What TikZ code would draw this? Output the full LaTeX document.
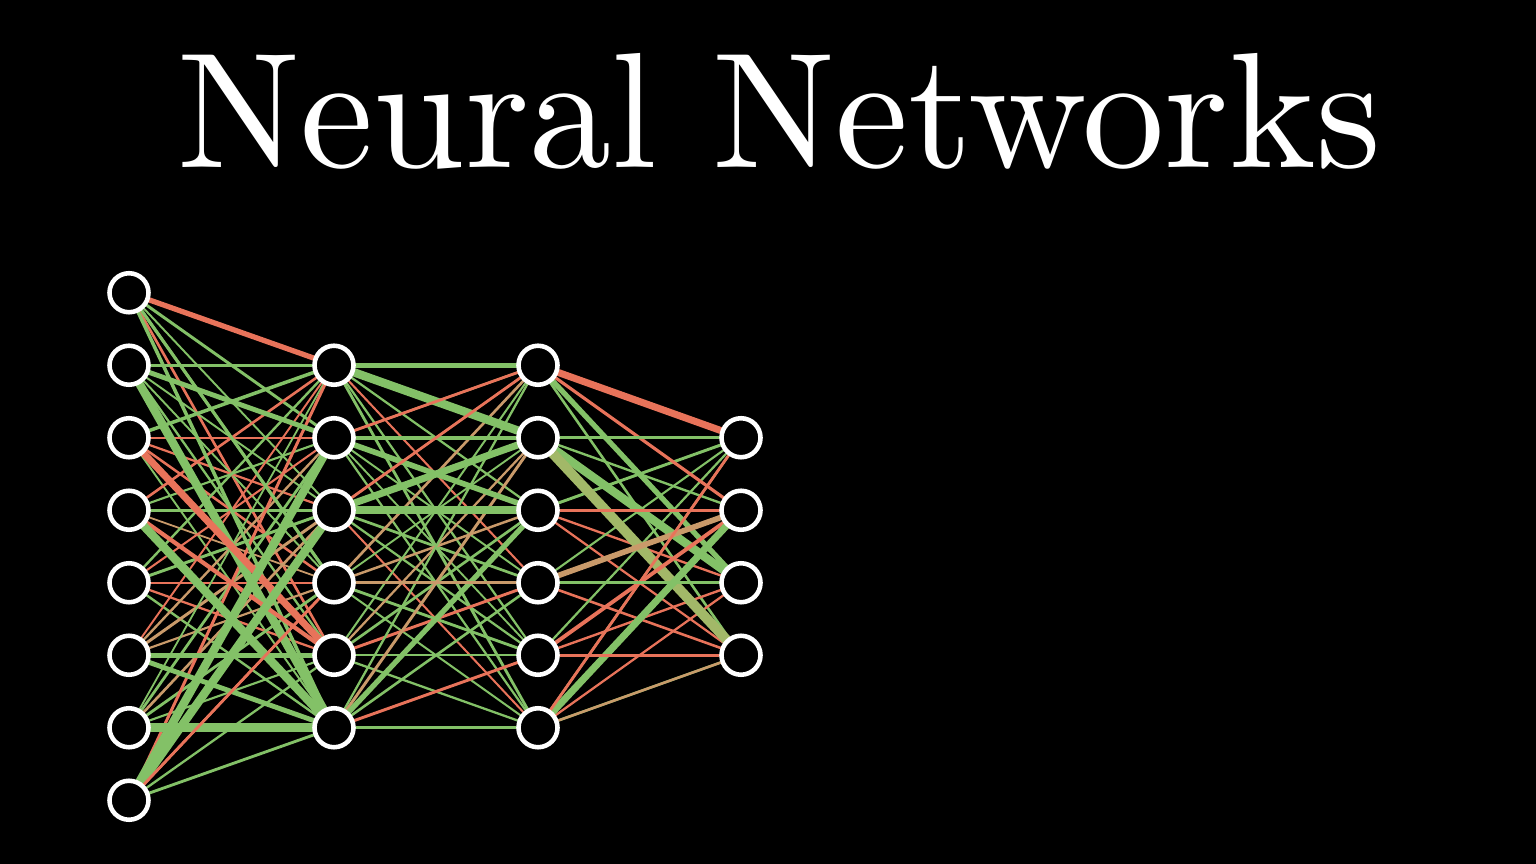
\documentclass[tikz,border=0pt]{standalone}
\usepackage{tikz}
\usetikzlibrary{positioning}
\definecolor{wgreen}{HTML}{83C167}
\definecolor{wred}{HTML}{E8735A}
\definecolor{wtan}{HTML}{C99A6A}
\definecolor{wolive}{HTML}{A2B868}
\newcommand{\gap}{0.725}
\pgfdeclarelayer{bg}
\pgfdeclarelayer{links}
\pgfsetlayers{bg,links,main}
\tikzset{
    neuron/.style={draw=white, circle, fill=black, line width=1.3pt, minimum size=3.9mm, inner sep=0pt},
    link/.style={line width=#1, line cap=round},
    title/.style={text=white, anchor=base, inner sep=0pt, font=\fontsize{10}{12}\selectfont},
}

\begin{document}
\begin{tikzpicture}
        % Background
        \begin{pgfonlayer}{bg}
            \fill[black] (0,0) rectangle (15.36,-8.64);
        \end{pgfonlayer}
        \useasboundingbox (0,0) rectangle (15.36,-8.64);
        % Title
        \node (title) [title] at (7.79,-1.68) {\scalebox{4.68}{Neural Networks}};
        % Layers
        \foreach \i in {1,...,8}
            \node (1\i) [neuron] at (1.29, {-5.465+(4.5-\i)*\gap}) {};
        \foreach \i in {1,...,6} {
            \node (2\i) [neuron] at (3.34, {-5.465+(3.5-\i)*\gap}) {};
            \node (3\i) [neuron] at (5.38, {-5.465+(3.5-\i)*\gap}) {};
        }
        \foreach \i in {1,...,4}
            \node (4\i) [neuron] at (7.41, {-5.465+(2.5-\i)*\gap}) {};

        % Weights (thin)
        \pgfmathsetseed{42}
        \begin{pgfonlayer}{links}
        \foreach \a/\b/\n/\m in {1/2/8/6, 2/3/6/6, 3/4/6/4}
            \foreach \i in {1,...,\n}
                \foreach \j in {1,...,\m} {
                    \pgfmathrandominteger{\c}{1}{20}
                    \pgfmathsetmacro{\w}{0.5+0.35*rnd}
                    \ifnum\c<12 \def\col{wgreen}\else\ifnum\c<17 \def\col{wred}\else\def\col{wtan}\fi\fi
                    \draw[link=\w pt, \col] (\a\i) -- (\b\j);
                }
        % Weights (strong)
        \foreach \a/\b/\col/\w in {11/21/wred/1.5, 11/24/wgreen/0.9, 11/26/wgreen/1.0,
                12/22/wgreen/1.4, 12/26/wgreen/2.4, 13/21/wgreen/1.0, 13/25/wred/2.0,
                14/25/wred/1.2, 14/26/wgreen/2.4, 16/25/wgreen/1.4, 16/26/wgreen/1.4,
                17/26/wgreen/2.6, 18/22/wgreen/2.4, 18/23/wgreen/2.4, 18/24/wred/0.8,
                21/31/wgreen/1.3, 21/32/wgreen/2.4, 22/32/wgreen/1.0, 22/33/wgreen/1.6,
                23/32/wgreen/2.0, 23/33/wgreen/2.2, 22/31/wred/0.8, 23/31/wred/0.8,
                26/33/wgreen/1.5, 26/36/wgreen/0.8, 24/34/wtan/0.8,
                31/41/wred/2.0, 31/43/wgreen/1.5, 31/42/wred/0.9, 32/41/wgreen/0.9,
                32/43/wgreen/2.4, 32/44/wolive/2.8, 33/42/wred/0.9, 34/42/wtan/1.6,
                35/42/wred/1.1, 36/42/wgreen/2.0, 36/41/wred/0.8, 36/44/wtan/0.7,
                35/44/wred/0.8, 34/43/wgreen/0.8}
            \draw[link=\w pt, \col] (\a) -- (\b);
        \end{pgfonlayer}
\end{tikzpicture}
\end{document}
